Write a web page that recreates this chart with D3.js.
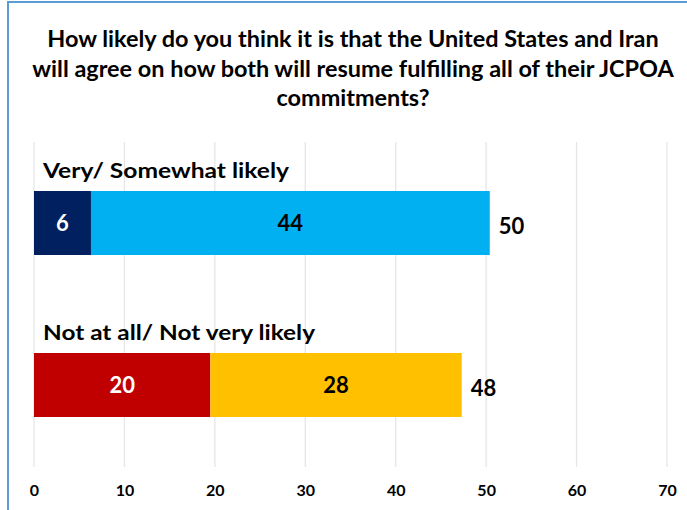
<!DOCTYPE html>
<html>
<head>
<meta charset="utf-8">
<script src="https://cdn.jsdelivr.net/npm/d3@7"></script>
<style>
  html, body { margin: 0; padding: 0; background: #fff; }
  svg { display: block; }
  text { font-family: Lato, "Open Sans", sans-serif; font-weight: bold; }
</style>
</head>
<body>
<svg id="chart" width="687" height="510"></svg>
<script>
// ---- data ----
const titleLines = [
  "How likely do you think it is that the United States and Iran",
  "will agree on how both will resume fulfilling all of their JCPOA",
  "commitments?"
];
const categories = ["Very/ Somewhat likely", "Not at all/ Not very likely"];
const innerValues = [6.3, 19.5];     // Very likely / Not at all likely
const outerValues = [44.1, 27.8];    // Somewhat likely / Not very likely
const innerLabels = ["6", "20"];
const outerLabels = ["44", "28"];
const totalLabels = ["50", "48"];
const tickValues = [0, 10, 20, 30, 40, 50, 60, 70];

const innerColors = ["#002060", "#C00000"];
const outerColors = ["#00B0F0", "#FFC000"];
const innerTextColors = ["#ffffff", "#ffffff"];
const outerTextColors = ["#000000", "#000000"];
const categoryLabelWidths = [246, 272];

// ---- layout ----
const svg = d3.select("#chart");
const W = 687, H = 510;

// frame
svg.append("line").attr("x1", 8).attr("x2", 8).attr("y1", 2).attr("y2", H)
  .attr("stroke", "#5B9BD5").attr("stroke-width", 2);
svg.append("line").attr("x1", 7).attr("x2", W).attr("y1", 2).attr("y2", 2)
  .attr("stroke", "#5B9BD5").attr("stroke-width", 2);

const x = d3.scaleLinear().domain([0, 70]).range([34, 667]);

// title
const title = svg.append("g");
titleLines.forEach((t, i) => {
  title.append("text")
    .attr("x", 353).attr("y", 47 + i * 29.5)
    .attr("text-anchor", "middle")
    .attr("font-size", 20)
    .attr("fill", "#000")
    .text(t);
});
const first = title.select("text").node();
const fs = 20 * 612 / first.getComputedTextLength();
title.selectAll("text").attr("font-size", fs);

// gridlines
svg.append("g").selectAll("line").data(tickValues).join("line")
  .attr("x1", d => x(d)).attr("x2", d => x(d))
  .attr("y1", 142).attr("y2", 467)
  .attr("stroke", "#E6E6E6").attr("stroke-width", 1.3);

// axis labels
const axis = d3.axisBottom(x).tickValues(tickValues).tickSize(0).tickPadding(0);
const ag = svg.append("g").attr("transform", "translate(0,485)").call(axis);
ag.select(".domain").remove();
ag.selectAll("text").attr("font-size", 16).attr("font-family", "Lato, sans-serif")
  .attr("font-weight", "bold").attr("fill", "#000").attr("dy", "0.71em");

// bars
const barTop = [191, 353];
const barH = 64;
const rows = svg.append("g").selectAll("g").data(categories).join("g");

rows.each(function(cat, i) {
  const g = d3.select(this);
  const yb = barTop[i];
  g.append("text").attr("x", 43).attr("y", yb - 13)
    .attr("font-size", 21).attr("fill", "#000")
    .attr("textLength", categoryLabelWidths[i]).attr("lengthAdjust", "spacingAndGlyphs")
    .text(cat);
  g.append("rect").attr("x", x(0)).attr("y", yb)
    .attr("width", x(innerValues[i]) - x(0)).attr("height", barH)
    .attr("fill", innerColors[i]);
  g.append("rect").attr("x", x(innerValues[i])).attr("y", yb)
    .attr("width", x(innerValues[i] + outerValues[i]) - x(innerValues[i])).attr("height", barH)
    .attr("fill", outerColors[i]);
  g.append("text").attr("x", (x(0) + x(innerValues[i])) / 2).attr("y", yb + barH / 2)
    .attr("dy", "0.36em").attr("text-anchor", "middle").attr("font-size", 22)
    .attr("fill", innerTextColors[i]).text(innerLabels[i]);
  g.append("text").attr("x", (x(innerValues[i]) + x(innerValues[i] + outerValues[i])) / 2)
    .attr("y", yb + barH / 2)
    .attr("dy", "0.36em").attr("text-anchor", "middle").attr("font-size", 22)
    .attr("fill", outerTextColors[i]).text(outerLabels[i]);
  g.append("text").attr("x", x(innerValues[i] + outerValues[i]) + 9)
    .attr("y", yb + barH / 2 + 3)
    .attr("dy", "0.36em").attr("text-anchor", "start").attr("font-size", 22)
    .attr("fill", "#000").text(totalLabels[i]);
});
</script>
</body>
</html>
